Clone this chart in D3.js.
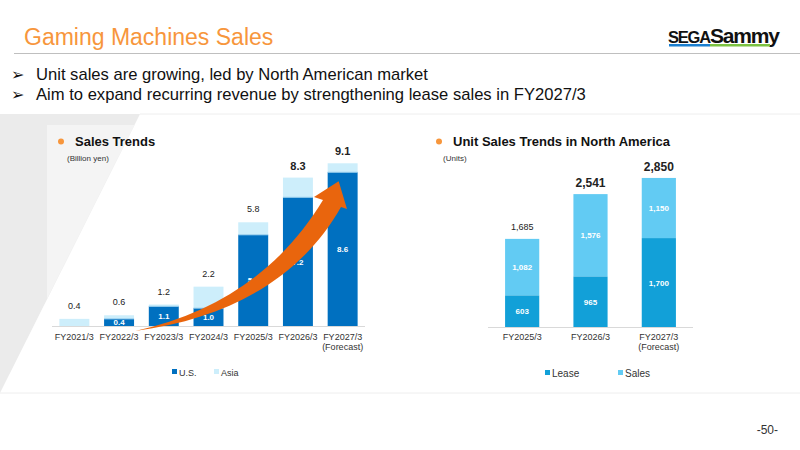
<!DOCTYPE html>
<html>
<head>
<meta charset="utf-8">
<script src="https://cdn.jsdelivr.net/npm/d3@7"></script>
<style>
  body { margin: 0; background: #fff; }
  svg { font-family: "Liberation Sans", Arial, sans-serif; }
</style>
</head>
<body>
<script>
// ---- data ----
const salesYears = ['FY2021/3', 'FY2022/3', 'FY2023/3', 'FY2024/3', 'FY2025/3', 'FY2026/3', 'FY2027/3'];
const salesUS    = [0, 0.4, 1.1, 1.0, 5.1, 7.2, 8.6];
const salesAsia  = [0.4, 0.2, 0.1, 1.2, 0.7, 1.1, 0.5];
const salesTotal = [0.4, 0.6, 1.2, 2.2, 5.8, 8.3, 9.1];

const unitYears = ['FY2025/3', 'FY2026/3', 'FY2027/3'];
const unitLease = [603, 965, 1700];
const unitSales = [1082, 1576, 1150];
const unitTotal = [1685, 2541, 2850];

const bullets = [
  'Unit sales are growing, led by North American market',
  'Aim to expand recurring revenue by strengthening lease sales in FY2027/3'
];

const W = 800, H = 450;
const svg = d3.select('body').append('svg').attr('width', W).attr('height', H);

// ---- background panels ----
svg.append('polygon').attr('points', '0,114 140,114 0,393').attr('fill', '#ebebeb');
svg.append('polygon').attr('points', '47,125 134.5,125 47,299').attr('fill', '#f4f4f4');
svg.append('line').attr('x1', 140).attr('x2', W).attr('y1', 114).attr('y2', 114)
   .attr('stroke', '#eeeeee').attr('stroke-width', 1);
svg.append('line').attr('x1', 0).attr('x2', W).attr('y1', 393).attr('y2', 393)
   .attr('stroke', '#eeeeee').attr('stroke-width', 1);

// ---- header ----
svg.append('text').attr('x', 24).attr('y', 45)
   .attr('font-size', 23).attr('fill', '#f7963c').text('Gaming Machines Sales');
svg.append('line').attr('x1', 14).attr('x2', W).attr('y1', 53.5).attr('y2', 53.5)
   .attr('stroke', '#bfbfbf').attr('stroke-width', 1);

// logo
const logo = svg.append('g');
logo.append('text').attr('x', 668).attr('y', 43).attr('font-size', 21).attr('font-weight', 900)
    .attr('letter-spacing', -1.2).attr('fill', '#111')
    .html('<tspan font-size="16.5">SEGA</tspan>Sammy');
logo.append('rect').attr('x', 669).attr('y', 44).attr('width', 41).attr('height', 2.5).attr('fill', '#1a7fd0');
logo.append('rect').attr('x', 710).attr('y', 44).attr('width', 60).attr('height', 2.5).attr('fill', '#7cc242');

// bullets
svg.selectAll('.bullet').data(bullets).enter().append('text')
   .attr('x', 11).attr('y', (d, i) => 80 + i * 20)
   .attr('font-size', 16.6).attr('fill', '#111')
   .html(d => '<tspan font-size="16" font-family="DejaVu Sans">➢</tspan><tspan x="36">' + d + '</tspan>');

// page number
svg.append('text').attr('x', 778).attr('y', 434).attr('text-anchor', 'end')
   .attr('font-size', 12).attr('fill', '#333').text('-50-');

// ---- helpers ----
function chartTitle(x, y, text) {
  svg.append('circle').attr('cx', x).attr('cy', y - 4.5).attr('r', 3).attr('fill', '#f7963c');
  svg.append('text').attr('x', x + 14).attr('y', y).attr('font-size', 13).attr('font-weight', 'bold')
     .attr('fill', '#111').text(text);
}

function xLabels(g, scale, cats, y) {
  cats.forEach((c, i) => {
    g.append('text').attr('x', scale(c) + scale.bandwidth() / 2).attr('y', y)
       .attr('text-anchor', 'middle').attr('font-size', 9).attr('fill', '#333').text(c);
    if (i === cats.length - 1) {
      g.append('text').attr('x', scale(c) + scale.bandwidth() / 2).attr('y', y + 10)
       .attr('text-anchor', 'middle').attr('font-size', 9).attr('fill', '#333').text('(Forecast)');
    }
  });
}

// ---- left chart: Sales Trends ----
chartTitle(61, 146, 'Sales Trends');
svg.append('text').attr('x', 67).attr('y', 161).attr('font-size', 8).attr('fill', '#333').text('(Billion yen)');

const x1 = d3.scaleBand().domain(salesYears).range([52, 365]).paddingInner(0.33).paddingOuter(0.165);
const y1 = d3.scaleLinear().domain([0, 10]).range([326, 147.2]);
const g1 = svg.append('g');

const usColor = '#0070c0', asiaColor = '#cdeefb';

g1.selectAll('.asia').data(salesYears).enter().append('rect')
  .attr('x', d => x1(d)).attr('width', x1.bandwidth())
  .attr('y', (d, i) => y1(salesUS[i] + salesAsia[i]))
  .attr('height', (d, i) => y1(salesUS[i]) - y1(salesUS[i] + salesAsia[i]))
  .attr('fill', asiaColor);
g1.selectAll('.us').data(salesYears).enter().append('rect')
  .attr('x', d => x1(d)).attr('width', x1.bandwidth())
  .attr('y', (d, i) => y1(salesUS[i]))
  .attr('height', (d, i) => y1(0) - y1(salesUS[i]))
  .attr('fill', usColor);
// thin separator line between segments
g1.selectAll('.sep').data(salesYears.filter((d, i) => salesUS[i] > 0)).enter().append('line')
  .attr('x1', d => x1(d)).attr('x2', d => x1(d) + x1.bandwidth())
  .attr('y1', d => y1(salesUS[salesYears.indexOf(d)])).attr('y2', d => y1(salesUS[salesYears.indexOf(d)]))
  .attr('stroke', '#9fd3f0').attr('stroke-width', 1);

g1.append('line').attr('x1', 52).attr('x2', 365).attr('y1', 326.5).attr('y2', 326.5)
  .attr('stroke', '#d9d9d9').attr('stroke-width', 1);

xLabels(g1, x1, salesYears, 340);

// total labels
salesYears.forEach((d, i) => {
  const big = i >= 5;
  g1.append('text').attr('x', x1(d) + x1.bandwidth() / 2)
    .attr('y', y1(salesTotal[i]) - (big ? 8 : 10))
    .attr('text-anchor', 'middle').attr('font-size', big ? 11 : 9)
    .attr('font-weight', big ? 'bold' : 'normal').attr('fill', '#222')
    .text(salesTotal[i].toFixed(1));
  if (salesUS[i] > 0) {
    g1.append('text').attr('x', x1(d) + x1.bandwidth() / 2)
      .attr('y', (y1(salesUS[i]) + y1(0)) / 2 + 3)
      .attr('text-anchor', 'middle').attr('font-size', 8).attr('font-weight', 'bold')
      .attr('fill', '#fff').text(salesUS[i].toFixed(1));
  }
});

// growth arrow
const ax0 = x1('FY2022/3') + 31, ay0 = y1(0) + 5;
const tip = [x1('FY2027/3') + 11, y1(9.1) + 18];
g1.append('path')
  .attr('d', `M${ax0},${ay0} C220,312 282,268 323,200 L314,197 L${tip[0]},${tip[1]} L347,209 L341,207 C302,276 232,318 ${ax0},${ay0} Z`)
  .attr('fill', '#e9650d');

// legend
const leg1 = svg.append('g');
[['U.S.', usColor, 172], ['Asia', asiaColor, 214]].forEach(([t, c, lx]) => {
  leg1.append('rect').attr('x', lx).attr('y', 369).attr('width', 5).attr('height', 5).attr('fill', c);
  leg1.append('text').attr('x', lx + 7).attr('y', 376).attr('font-size', 9).attr('fill', '#333').text(t);
});

// ---- right chart: Unit Sales Trends in North America ----
chartTitle(439, 146, 'Unit Sales Trends in North America');
svg.append('text').attr('x', 443).attr('y', 161).attr('font-size', 8).attr('fill', '#333').text('(Units)');

const x2 = d3.scaleBand().domain(unitYears).range([488, 693]).paddingInner(0.5).paddingOuter(0.25);
const y2 = d3.scaleLinear().domain([0, 3000]).range([327, 170.1]);
const g2 = svg.append('g');
const leaseColor = '#12a0d8', salesColor = '#62cbf3';

g2.selectAll('.sales').data(unitYears).enter().append('rect')
  .attr('x', d => x2(d)).attr('width', x2.bandwidth())
  .attr('y', (d, i) => y2(unitLease[i] + unitSales[i]))
  .attr('height', (d, i) => y2(unitLease[i]) - y2(unitLease[i] + unitSales[i]))
  .attr('fill', salesColor);
g2.selectAll('.lease').data(unitYears).enter().append('rect')
  .attr('x', d => x2(d)).attr('width', x2.bandwidth())
  .attr('y', (d, i) => y2(unitLease[i]))
  .attr('height', (d, i) => y2(0) - y2(unitLease[i]))
  .attr('fill', leaseColor);

g2.append('line').attr('x1', 488).attr('x2', 693).attr('y1', 327.5).attr('y2', 327.5)
  .attr('stroke', '#d9d9d9').attr('stroke-width', 1);

xLabels(g2, x2, unitYears, 340);

const fmt = d3.format(',');
unitYears.forEach((d, i) => {
  const big = i >= 1;
  const cx = x2(d) + x2.bandwidth() / 2;
  g2.append('text').attr('x', cx).attr('y', y2(unitTotal[i]) - (big ? 7 : 9))
    .attr('text-anchor', 'middle').attr('font-size', big ? 12 : 9)
    .attr('font-weight', big ? 'bold' : 'normal').attr('fill', '#222').text(fmt(unitTotal[i]));
  g2.append('text').attr('x', cx).attr('y', (y2(0) + y2(unitLease[i])) / 2 + 3)
    .attr('text-anchor', 'middle').attr('font-size', 8).attr('font-weight', 'bold')
    .attr('fill', '#fff').text(fmt(unitLease[i]));
  g2.append('text').attr('x', cx).attr('y', (y2(unitLease[i]) + y2(unitTotal[i])) / 2 + 3)
    .attr('text-anchor', 'middle').attr('font-size', 8).attr('font-weight', 'bold')
    .attr('fill', '#fff').text(fmt(unitSales[i]));
});

const leg2 = svg.append('g');
[['Lease', leaseColor, 545], ['Sales', salesColor, 618]].forEach(([t, c, lx]) => {
  leg2.append('rect').attr('x', lx).attr('y', 370).attr('width', 5).attr('height', 5).attr('fill', c);
  leg2.append('text').attr('x', lx + 7).attr('y', 376.5).attr('font-size', 10).attr('fill', '#333').text(t);
});
</script>
</body>
</html>
